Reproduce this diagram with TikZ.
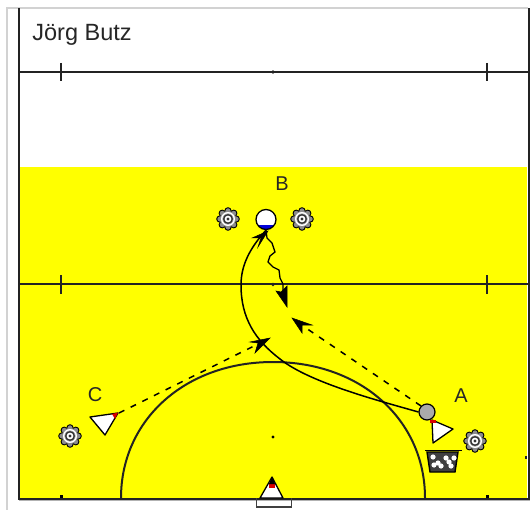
\documentclass[tikz,border=0pt]{standalone}
\usepackage{fontspec}
\setmainfont{Liberation Sans}
\definecolor{court}{RGB}{255,255,0}
\definecolor{ballgray}{RGB}{170,170,170}
\definecolor{frameg}{RGB}{210,210,210}
\definecolor{dline}{RGB}{35,35,35}
\tikzset{
  lbl/.style={font=\fontsize{20}{20}\selectfont,text=black!85,inner sep=0pt},
  ttl/.style={font=\fontsize{23.5}{24}\selectfont,text=black!85,inner sep=0pt},
  mark line/.style={line width=2pt,dline},
  tick/.style={line width=1.7pt,dline},
  run/.style={line width=1.5pt,black},
  pass/.style={line width=1.5pt,black,dash pattern=on 6pt off 7pt},
  head/.style={fill=black,draw=black,line width=.5pt,line join=miter},
  player/.style={draw=black,fill=white,line width=1.3pt,line join=round},
  conedot/.style={draw=black,fill=black!45,line width=.9pt},
}
\newcommand{\conedraw}[1]{%
  \foreach \a in {0,45,...,315}{\draw[conedot] (#1) ++(\a:-8.2) circle (3.1);}
  \fill[black!45] (#1) circle (8.2);
  \draw[white,line width=1.4pt] (#1) circle (6.3);
  \draw[black!80,line width=1.3pt] (#1) circle (4.2);
  \fill[white] (#1) circle (3.3);
  \fill[black!80] (#1) circle (1.6);
}
\begin{document}
\begin{tikzpicture}[x=1pt,y=-1pt]
\useasboundingbox (0,0) rectangle (532,510);
\fill[white] (0,0) rectangle (532,510);
% frame
\draw[frameg,line width=1.6pt] (7,510) -- (7,8) -- (528,8);
\fill[court] (20,167) rectangle (527,498);
\draw[black!30,line width=1.4pt] (19,500) -- (530,500);
% field lines
\draw[mark line] (19,8) -- (19,498.5) -- (528.5,498.5) -- (528.5,8);
\draw[mark line] (19,72) -- (528,72);
\draw[mark line] (19,284.5) -- (528,284.5);
\foreach \y in {72,284.5}{
  \draw[tick] (61,\y-9) -- (61,\y+9);
  \draw[tick] (487,\y-9) -- (487,\y+9);
  \fill[dline] (273,\y) circle (1.8);
}
\foreach \x in {61,487}{\fill[black] (\x-1.5,494.5) rectangle (\x+1.5,498);}
\fill[black] (273,437) circle (1.7);
\fill[dline] (525,455.5) rectangle (527,458.5);
% goal area arc
\draw[mark line] (121,498) .. controls (121,420) and (185,362) .. (273,362)
  .. controls (361,362) and (425,420) .. (425,498);
% labels
\node[ttl] (title) at (82,35) {Jörg Butz};
\node[lbl] (lA) at (461,396) {A};
\node[lbl] (lB) at (282,184) {B};
\node[lbl] (lC) at (95,395) {C};
% cones
\conedraw{228,219}
\conedraw{302,219}
\conedraw{70,436}
\conedraw{475,441}
% player B
\node[circle,minimum size=21pt,inner sep=0pt] (pB) at (266,219.5) {};
\fill[white] (pB.center) circle (10);
\begin{scope}
  \clip (pB.center) circle (10);
  \fill[blue!85!black] (250,225) rectangle (282,232);
\end{scope}
\draw[black,line width=1.3pt] (pB.center) circle (10);
% ball at A
\node[circle,fill=ballgray,draw=black,line width=1.2pt,minimum size=16pt,inner sep=0pt] (ball) at (427,412) {};
% player A
\coordinate (pA) at (438,430);
\draw[player] (432,420) -- (453,429) -- (433,443) -- cycle;
\fill[red!85!black] (430,419.5) rectangle (436,422.5);
% player C
\coordinate (pC) at (112,414);
\draw[player] (90,417) -- (118,413) -- (105,435) -- cycle;
\fill[red!85!black] (112,414) -- (118,412.5) -- (115,419) -- cycle;
% bottom player
\draw[player] (272,477) -- (283,498) -- (260,498) -- cycle;
\fill[red!85!black] (269,483) rectangle (275,488);
\fill[black] (269,484) -- (272,477) -- (275,484) -- cycle;
\draw[black!75,line width=1.5pt] (256.5,498) -- (256.5,507) -- (291.5,507) -- (291.5,498);
% ball basket
\fill[black!75,draw=black,line width=1.4pt] (427,452) -- (458,452) -- (455,472) -- (430,472) -- cycle;
\draw[black,line width=1.5pt] (425,450.5) -- (462,450.5);
\foreach \x/\y in {433/457,441/466,451/466,438/463,446/458,454/458,434/465,449/462}{
  \fill[white] (\x,\y) circle (2.6);
}
% long run of player A
\draw[run] (ball.west) .. controls (380,401) and (310,383) .. (280,359)
  .. controls (255,340) and (241,318) .. (241,285)
  .. controls (241,265) and (250,248) .. (pB.south);
\fill[head] (268,231) -- (252,238) -- (261,238) -- (258,247) -- cycle;
% dribble from B
\draw[run,line width=1.3pt] (pB.south) -- (267,238) -- (272,243) -- (275,252) -- (270,256) -- (268,262)
  -- (273,267) -- (279,270) -- (280,278) -- (283,284) -- (283,292);
\fill[head] (287,307) -- (276,291) -- (281,292) -- (287,286) -- cycle;
% pass C to middle
\draw[pass] (pC) ++(7,-1) -- (258,344);
\fill[head] (270,338) -- (250,342) -- (258,343) -- (255,353) -- cycle;
% pass A to middle
\draw[pass] (ball.north west) -- (303,326);
\fill[head] (292,318) -- (312,325) -- (302,325) -- (302,333) -- cycle;
\end{tikzpicture}
\end{document}
